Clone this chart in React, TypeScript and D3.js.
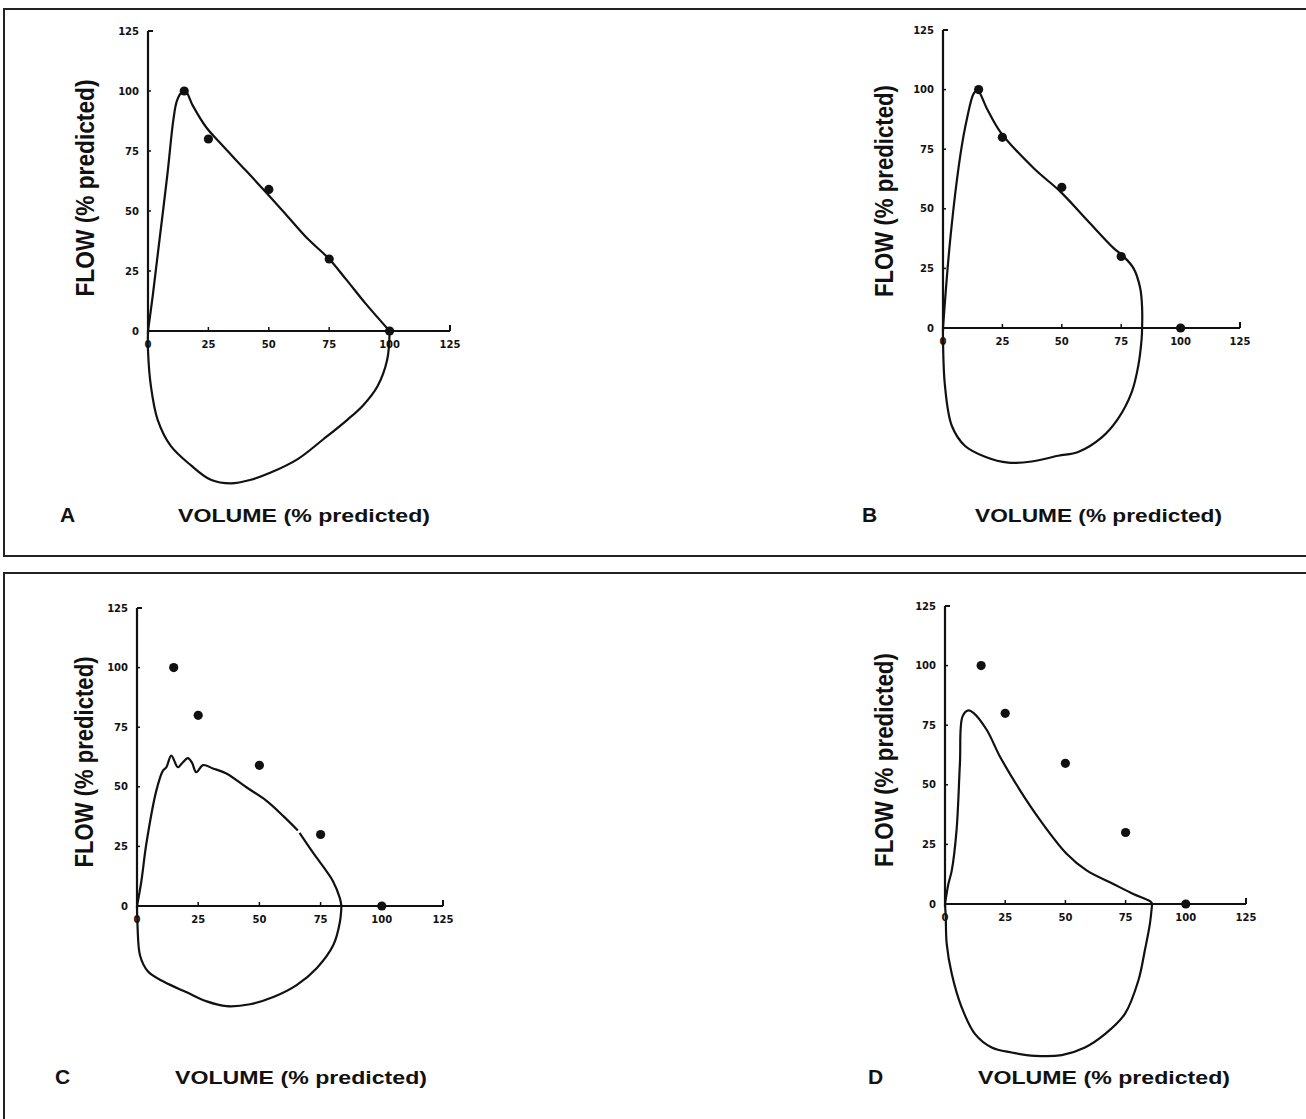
import React from 'react';
import * as d3 from 'd3';

type P = [number, number];

const tickValues = [0, 25, 50, 75, 100, 125];
const tickLabels = ['0', '25', '50', '75', '100', '125'];
const predictedVolume = [15, 25, 50, 75, 100];
const predictedFlow = [100, 80, 59, 30, 0];
const panelLetters = ['A', 'B', 'C', 'D'];
const xTitle = 'VOLUME (% predicted)';
const yTitle = 'FLOW (% predicted)';

// expiratory limbs (volume, flow)
const expA: P[] = [[0, 0], [2, 15], [4.4, 35], [8, 65], [10.5, 88], [12, 96], [14, 99.5], [15.5, 100], [18.6, 93.8], [24, 85], [29.7, 78.5], [40, 67.4], [49, 57.6], [58, 47.5], [66, 38.5], [75, 30], [82, 21.5], [90, 11.5], [100, 0]];
const expB: P[] = [[0, 0], [3.1, 37.7], [7.3, 72.5], [10.1, 87.9], [12.9, 98.3], [14.5, 99.8], [18.5, 92], [24.1, 82.3], [38.2, 67], [49.4, 57.2], [60.6, 45.3], [71.8, 33.5], [76, 30], [80.2, 25], [83, 16.7], [83.8, 8.4], [83.8, 0]];
const expC: P[] = [[0, 0], [1.8, 10.5], [3.8, 26], [7.9, 48.4], [10.6, 56.8], [12, 58.2], [14, 63.1], [16.7, 58.2], [18.5, 60], [20.8, 62], [22.5, 60], [24.2, 56.1], [27, 59.1], [31, 57.7], [36.5, 55.6], [44.7, 49.8], [52.8, 44.2], [60, 37.5], [65.7, 31.7]];
const expC2: P[] = [[66.4, 30.7], [71.9, 22.4], [76, 16.6], [80, 10.5], [82.8, 3.5], [83.5, 0]];
const expD: P[] = [[0, 0], [1.4, 8.4], [2.8, 14], [4.8, 31], [6.2, 59], [7.3, 78.7], [9.7, 81.2], [11.8, 80.2], [17.3, 73.1], [22.8, 61.9], [31.1, 47.8], [39.5, 35.2], [50.5, 21.1], [58.8, 14.1], [69.9, 8.4], [78.2, 4.2], [85.1, 1.2], [86, 0.3]];

// inspiratory limbs (volume, flow), from end of expiration back to 0
const inspA: P[] = [[100, 0], [99, -12], [95, -23], [89, -31], [82.5, -37], [72.7, -45], [61.8, -53.5], [50.8, -59], [42.6, -62], [34.3, -63.5], [26, -62], [17.8, -56], [9.5, -48], [4, -37], [1.2, -23], [0, -8], [0, 0]];
const inspB: P[] = [[83.8, 0], [83.6, -4.6], [82.2, -15.8], [79.4, -27], [73.7, -38], [66.7, -46], [56.9, -52], [48.5, -53.6], [37.3, -56], [27.5, -56.5], [17.7, -54], [9.3, -49.5], [3.7, -41], [0.8, -24], [0, -5], [0, 0]];
const inspC: P[] = [[83.5, 0], [82.9, -6.6], [80.2, -16.4], [73.4, -26.1], [65.2, -33.2], [55.7, -38.2], [46.2, -41.2], [36.6, -42], [28.5, -40], [20.3, -36.2], [11, -31.8], [4.5, -27.5], [1.3, -21], [0.2, -8], [0, 0]];
const inspD: P[] = [[86, 0], [85.1, -8.2], [83, -19.4], [80.3, -32.1], [74.7, -46.1], [66.4, -54.6], [58.1, -60.2], [48.5, -63.4], [37.4, -63.7], [27.7, -62.3], [19.4, -60.2], [12.5, -54.6], [6.9, -43.3], [2.8, -29.3], [0.7, -16.6], [0.3, -5.4], [0, 0]];

const curveSegments: P[][][] = [
  [expA, inspA],
  [expB, inspB],
  [expC, expC2, inspC],
  [expD, inspD],
];

// layout (pixel positions only)
const layout = [
  { x0: 148, x1: 450, y0: 331, y1: 31, lx: 60, ly: 522, tx: 178, tw: 252, ty: 522, yx: 94, yy: 188, yw: 217 },
  { x0: 943, x1: 1240, y0: 328, y1: 30, lx: 862, ly: 522, tx: 975, tw: 247, ty: 522, yx: 893, yy: 191, yw: 212 },
  { x0: 137, x1: 443, y0: 906, y1: 608, lx: 55, ly: 1084, tx: 175, tw: 252, ty: 1084, yx: 93, yy: 762, yw: 211 },
  { x0: 945, x1: 1246, y0: 904, y1: 606, lx: 868, ly: 1084, tx: 978, tw: 252, ty: 1084, yx: 893, yy: 760, yw: 214 },
];

const INK = '#111';

function Panel({ i }: { i: number }) {
  const L = layout[i];
  const x = d3.scaleLinear().domain([0, 125]).range([L.x0, L.x1]);
  const y = d3.scaleLinear().domain([0, 125]).range([L.y0, L.y1]);
  const line = d3
    .line<P>()
    .x((d) => x(d[0]))
    .y((d) => y(d[1]))
    .curve(d3.curveCatmullRom.alpha(0.5));
  return (
    <g>
      {/* axes */}
      <line x1={x(0)} y1={y(0) + 3} x2={x(0)} y2={y(125)} stroke={INK} strokeWidth={2.2} />
      <line x1={x(0)} y1={y(0)} x2={x(125)} y2={y(0)} stroke={INK} strokeWidth={2.2} />
      <line x1={x(0)} y1={y(125)} x2={x(0) + 5} y2={y(125)} stroke={INK} strokeWidth={2} />
      <line x1={x(125)} y1={y(0)} x2={x(125)} y2={y(0) - 6} stroke={INK} strokeWidth={2} />
      {tickValues.slice(1, -1).map((t) => (
        <g key={'t' + t}>
          <line x1={x(t)} y1={y(0)} x2={x(t)} y2={y(0) - 4} stroke={INK} strokeWidth={1.5} />
          <line x1={x(0)} y1={y(t)} x2={x(0) + 3} y2={y(t)} stroke={INK} strokeWidth={1.5} />
        </g>
      ))}
      {tickValues.map((t, k) => (
        <g key={'l' + t} fontFamily="DejaVu Sans" fontWeight="bold" fontSize={10} fill={INK}>
          <text x={x(0) - 9} y={y(t) + 3.5} textAnchor="end">
            {tickLabels[k]}
          </text>
          <text x={x(t)} y={y(0) + 17} textAnchor="middle">
            {tickLabels[k]}
          </text>
        </g>
      ))}
      {/* flow-volume loop */}
      {curveSegments[i].map((seg, k) => (
        <path key={'c' + k} d={line(seg) || ''} fill="none" stroke={INK} strokeWidth={2.2} strokeLinejoin="round" />
      ))}
      {/* predicted values */}
      {predictedVolume.map((v, k) => (
        <circle key={'p' + k} cx={x(v)} cy={y(predictedFlow[k])} r={4.6} fill={INK} />
      ))}
      {/* titles */}
      <text x={L.lx} y={L.ly} fontFamily="Liberation Sans" fontWeight="bold" fontSize={21} fill={INK}>
        {panelLetters[i]}
      </text>
      <text
        x={L.tx}
        y={L.ty}
        fontFamily="Liberation Sans"
        fontWeight="bold"
        fontSize={19}
        fill={INK}
        textLength={L.tw}
        lengthAdjust="spacingAndGlyphs"
      >
        {xTitle}
      </text>
      <text
        transform={`translate(${L.yx},${L.yy}) rotate(-90)`}
        x={-L.yw / 2}
        y={0}
        fontFamily="Liberation Sans"
        fontWeight="bold"
        fontSize={25}
        fill={INK}
        textLength={L.yw}
        lengthAdjust="spacingAndGlyphs"
      >
        {yTitle}
      </text>
    </g>
  );
}

export default function App() {
  return (
    <div style={{ position: 'absolute', left: 0, top: 0 }}>
      <svg width={1306} height={1119} style={{ display: 'block', background: '#fff' }}>
        {/* frames */}
        <path d="M1306,9 L4,9 L4,556 L1306,556" fill="none" stroke="#222" strokeWidth={2} />
        <path d="M1306,573 L4,573 L4,1119" fill="none" stroke="#222" strokeWidth={2} />
        {[0, 1, 2, 3].map((i) => (
          <Panel key={i} i={i} />
        ))}
      </svg>
    </div>
  );
}
